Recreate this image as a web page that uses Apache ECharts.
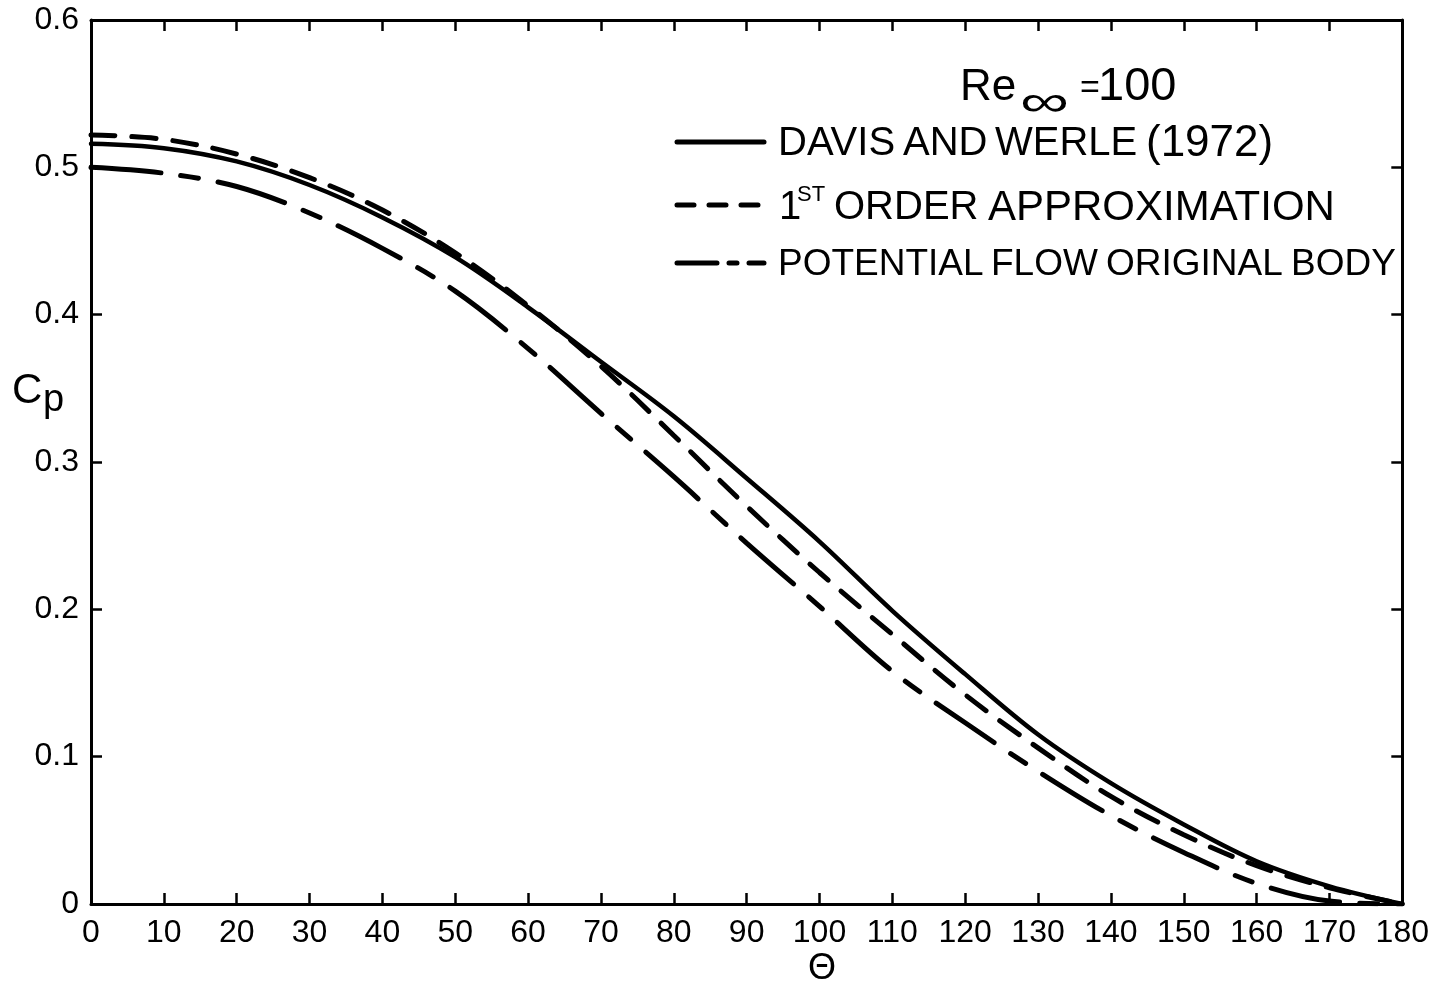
<!DOCTYPE html>
<html>
<head>
<meta charset="utf-8">
<title>Cp vs theta, Re = 100</title>
<script src="https://cdn.jsdelivr.net/npm/echarts@6/dist/echarts.min.js"></script>
<style>
  html, body { margin: 0; padding: 0; background: #fff; }
  #chart { width: 1432px; height: 989px; }
</style>
</head>
<body>
<div id="chart"></div>
<script>
// Surface angle (degrees) and pressure coefficient for each curve
const theta = [0, 10, 20, 30, 40, 50, 60, 70, 80, 90, 100, 110, 120, 130, 140, 150, 160, 170, 180];
const davisWerle = [0.516, 0.513, 0.504, 0.488, 0.466, 0.439, 0.405, 0.368, 0.331, 0.289, 0.246, 0.199, 0.156, 0.115, 0.082, 0.054, 0.029, 0.012, 0];
const firstOrder = [0.522, 0.519, 0.509, 0.493, 0.471, 0.442, 0.406, 0.365, 0.318, 0.270, 0.225, 0.183, 0.142, 0.106, 0.073, 0.047, 0.026, 0.011, 0];
const potentialFlow = [0.500, 0.496, 0.487, 0.469, 0.445, 0.416, 0.377, 0.333, 0.290, 0.245, 0.202, 0.158, 0.123, 0.090, 0.060, 0.035, 0.014, 0.002, 0];

const seriesNames = ['DAVIS AND WERLE (1972)', '1ST ORDER APPROXIMATION', 'POTENTIAL FLOW ORIGINAL BODY'];
const xTickLabels = ['0', '10', '20', '30', '40', '50', '60', '70', '80', '90', '100', '110', '120', '130', '140', '150', '160', '170', '180'];
const yTickLabels = ['0', '0.1', '0.2', '0.3', '0.4', '0.5', '0.6'];

const INK = '#000';
const FONT = "'Liberation Sans', Arial, sans-serif";

function pairs(ys) { return theta.map((t, i) => [t, ys[i]]); }
function txt(x, y, s, size, extra) {
  return Object.assign({ type: 'text', left: x, top: y,
    style: { text: s, font: `${size}px ${FONT}`, fill: INK } }, extra || {});
}

const chart = echarts.init(document.getElementById('chart'), null, { renderer: 'canvas' });

const frameLine = { show: true, onZero: false, lineStyle: { color: INK, width: 3 } };
const innerTick = { show: true, inside: true, length: 11, lineStyle: { color: INK, width: 2.5 } };

const option = {
  backgroundColor: '#fff',
  animation: false,
  grid: { left: 91, right: 29, top: 20, bottom: 85, containLabel: false },
  xAxis: [
    {
      type: 'value', position: 'bottom', min: 0, max: 180, interval: 10,
      axisLine: frameLine, axisTick: innerTick, splitLine: { show: false },
      axisLabel: {
        color: INK, fontFamily: FONT, fontSize: 32, margin: 13,
        formatter: v => xTickLabels[Math.round(v / 10)]
      }
    },
    {
      type: 'value', position: 'top', min: 0, max: 180, interval: 10,
      axisLine: frameLine, axisTick: innerTick, splitLine: { show: false },
      axisLabel: { show: false }
    }
  ],
  yAxis: [
    {
      type: 'value', position: 'left', min: 0, max: 0.6, interval: 0.1,
      axisLine: frameLine, axisTick: innerTick, splitLine: { show: false },
      axisLabel: {
        color: INK, fontFamily: FONT, fontSize: 32, margin: 12,
        formatter: v => yTickLabels[Math.round(v * 10)]
      }
    },
    {
      type: 'value', position: 'right', min: 0, max: 0.6, interval: 0.1,
      axisLine: frameLine, axisTick: innerTick, splitLine: { show: false },
      axisLabel: { show: false }
    }
  ],
  series: [
    {
      name: seriesNames[0], type: 'line', data: pairs(davisWerle),
      smooth: 0.35, showSymbol: false,
      lineStyle: { color: INK, width: 4.5, type: 'solid', cap: 'round' }
    },
    {
      name: seriesNames[1], type: 'line', data: pairs(firstOrder),
      smooth: 0.35, showSymbol: false,
      lineStyle: { color: INK, width: 5, type: [24, 17], cap: 'round' }
    },
    {
      name: seriesNames[2], type: 'line', data: pairs(potentialFlow),
      smooth: 0.35, showSymbol: false,
      lineStyle: { color: INK, width: 5, type: [70, 20, 18, 20], cap: 'round' }
    }
  ],
  graphic: [
    // Reynolds number heading
    txt(960, 66, 'Re', 44),
    txt(1020, 82, '∞', 44, { scaleX: 1.55, originX: 1020, originY: 100 }),
    txt(1080, 72, '=', 34),
    txt(1098, 64, '100', 47),

    // Legend keys
    { type: 'line', shape: { x1: 677, y1: 142, x2: 764, y2: 142 },
      style: { stroke: INK, lineWidth: 5, lineCap: 'round' } },
    { type: 'line', shape: { x1: 677, y1: 205, x2: 764, y2: 205 },
      style: { stroke: INK, lineWidth: 5, lineCap: 'round', lineDash: [17, 15] } },
    { type: 'line', shape: { x1: 677, y1: 263, x2: 764, y2: 263 },
      style: { stroke: INK, lineWidth: 5, lineCap: 'round', lineDash: [40, 12, 8, 12] } },

    // Legend texts
    txt(778, 124, 'DAVIS', 40),
    txt(903, 124, 'AND', 40),
    txt(995, 124, 'WERLE', 40),
    txt(1146, 122, '(1972)', 44),

    txt(779, 188, '1', 40),
    txt(797, 184, 'ST', 22),
    txt(834, 188, 'ORDER', 40),
    txt(988, 187, 'APPROXIMATION', 42),

    txt(778, 246, 'POTENTIAL', 37),
    txt(991, 246, 'FLOW', 37),
    txt(1106, 246, 'ORIGINAL', 37),
    txt(1291, 246, 'BODY', 37),

    // Axis titles
    txt(12, 370, 'C', 42),
    txt(43, 382, 'p', 38),
    txt(808, 951, 'Θ', 36)
  ]
};

chart.setOption(option);
</script>
</body>
</html>
